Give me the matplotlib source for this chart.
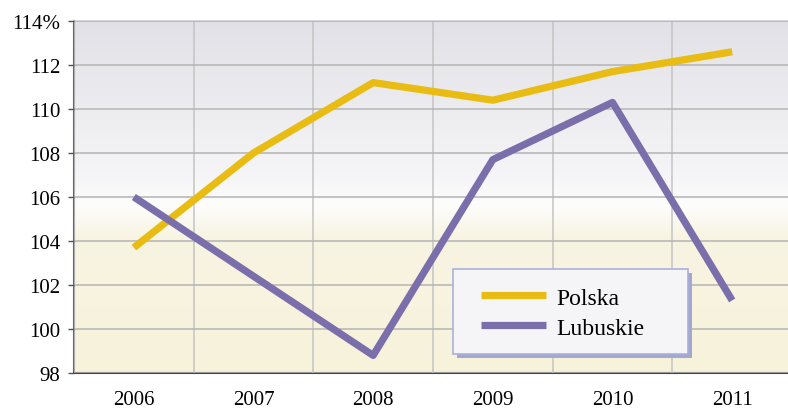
import numpy as np
import matplotlib.pyplot as plt
from matplotlib.colors import LinearSegmentedColormap
from matplotlib.patches import Rectangle

years = ["2006", "2007", "2008", "2009", "2010", "2011"]
polska = [103.7, 108.0, 111.2, 110.4, 111.7, 112.6]
lubuskie = [106.0, 102.4, 98.8, 107.7, 110.3, 101.3]
yticks = [98, 100, 102, 104, 106, 108, 110, 112, 114]
ylabels = ["98", "100", "102", "104", "106", "108", "110", "112", "114%"]

plt.rcParams["font.family"] = ["Liberation Serif", "DejaVu Serif"]

W, H = 788, 410
fig = plt.figure(figsize=(W / 100, H / 100), dpi=100)
ax = fig.add_axes([74 / W, 36 / H, 718 / W, 352 / H])

# background gradient: grey on top, white in the middle, cream at the bottom
cmap = LinearSegmentedColormap.from_list(
    "bg", [(0.0, "#f7f2da"), (0.38, "#f8f4e2"), (0.48, "#fdfdfc"),
           (0.55, "#f6f6f8"), (1.0, "#e1e1e7")])
grad = np.linspace(0, 1, 256).reshape(-1, 1)
ax.imshow(grad, cmap=cmap, aspect="auto", origin="lower",
          extent=[0, 1, 0, 1], transform=ax.transAxes, zorder=0)

x = np.arange(len(years))
ax.plot(x, polska, color="#e8bc12", lw=5.2, solid_capstyle="butt",
        label="Polska", zorder=3)
ax.plot(x, lubuskie, color="#7a6fab", lw=5.2, solid_capstyle="butt",
        label="Lubuskie", zorder=3)

ax.set_xlim(-0.5, 5.5)
ax.set_ylim(98, 114)
ax.set_xticks(x)
ax.set_xticklabels(years, fontsize=15)
ax.set_yticks(yticks)
ax.set_yticklabels(ylabels, fontsize=15)
ax.set_xticks(np.arange(-0.5, 6, 1), minor=True)
ax.tick_params(axis="x", which="both", length=0, pad=12)
ax.tick_params(axis="y", length=4, width=1, color="#555555", pad=6)
ax.grid(axis="y", color="#b4b4b4", lw=1.1)
ax.grid(axis="x", which="minor", color="#c4c4c4", lw=1.1)
ax.set_axisbelow(False)
for gl in ax.get_xgridlines() + ax.get_ygridlines():
    gl.set_zorder(1)

ax.spines["left"].set_color("#666666")
ax.spines["left"].set_linewidth(1.5)
ax.spines["bottom"].set_color("#444444")
ax.spines["bottom"].set_linewidth(1.5)
ax.spines["top"].set_color("#d0d0d4")
ax.spines["top"].set_linewidth(1.2)
ax.spines["right"].set_visible(False)

# legend box with shadow, drawn in figure pixels
bx0, bx1, by0, by1 = 453, 688, 270, 355
fig.patches.append(Rectangle(((bx0 + 4) / W, 1 - (by1 + 4) / H), (bx1 - bx0) / W,
                             (by1 - by0) / H, transform=fig.transFigure,
                             facecolor="#a4a8cc", edgecolor="none", zorder=4))
fig.patches.append(Rectangle((bx0 / W, 1 - by1 / H), (bx1 - bx0) / W,
                             (by1 - by0) / H, transform=fig.transFigure,
                             facecolor="#f5f5f7", edgecolor="#aab0dc", lw=1.2,
                             zorder=4.5))
leg = fig.legend(loc="upper left", bbox_to_anchor=(481 / W, 1 - 288 / H),
                 fontsize=17, frameon=False, handlelength=2.75,
                 handletextpad=0.45, borderpad=0, labelspacing=0.36,
                 borderaxespad=0)
leg.set_zorder(5)

fig.savefig("out.png", dpi=100)
